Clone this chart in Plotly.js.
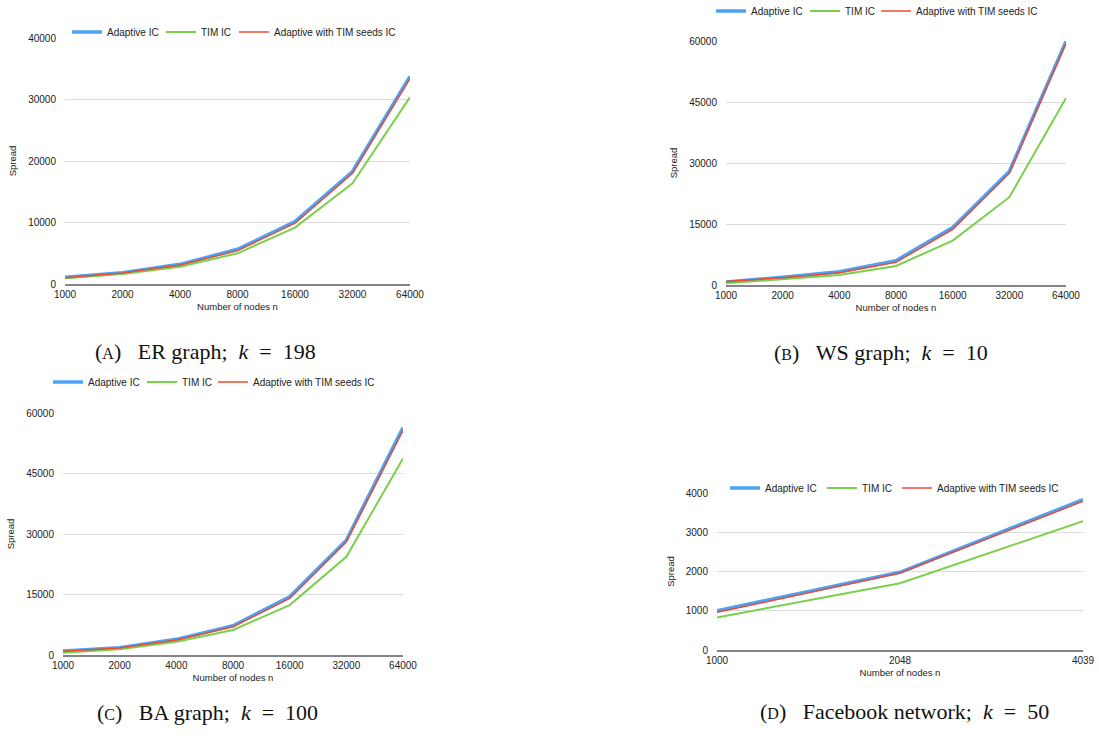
<!DOCTYPE html>
<html>
<head>
<meta charset="utf-8">
<script src="https://cdn.plot.ly/plotly-3.0.1.min.js"></script>
<style>
html,body{margin:0;padding:0;background:#fff;}
#chart{width:1099px;height:736px;}
</style>
</head>
<body>
<div id="chart"></div>
<script>
// ---- data ----
const nodeCats = ['1000','2000','4000','8000','16000','32000','64000'];
const fbCats = ['1000','2048','4039'];

const erAdaptive    = [1090, 1850, 3200, 5640, 10150, 18290, 33760];
const erTim         = [920, 1630, 2820, 4990, 9170, 16390, 30390];
const erAdaptiveTim = [1000, 1780, 3090, 5430, 9880, 18000, 33430];

const wsAdaptive    = [750, 1890, 3280, 5990, 14120, 27900, 59900];
const wsTim         = [410, 1400, 2460, 4680, 10920, 21590, 45970];
const wsAdaptiveTim = [850, 1800, 3040, 5580, 13700, 27500, 59500];

const baAdaptive    = [990, 1820, 3880, 7260, 14440, 28470, 56370];
const baTim         = [580, 1400, 3300, 6190, 12380, 24350, 48700];
const baAdaptiveTim = [950, 1750, 3710, 7010, 14030, 28060, 55710];

const fbAdaptive    = [1000, 1980, 3830];
const fbTim         = [830, 1700, 3280];
const fbAdaptiveTim = [960, 1960, 3790];

const seriesNames = ['Adaptive IC', 'TIM IC', 'Adaptive with TIM seeds IC'];
const xTitle = 'Number of nodes n';
const yTitle = 'Spread';
const SP = '&nbsp;';
function caption(letter, label, k) {
  return '(<span style="font-size:16px">' + letter + '</span>)' + SP.repeat(3) +
         label + SP.repeat(2) + '<i>k</i>' + SP.repeat(2) + '=' + SP.repeat(2) + k;
}
const captions = [
  caption('A', 'ER graph;', '198'),
  caption('B', 'WS graph;', '10'),
  caption('C', 'BA graph;', '100'),
  caption('D', 'Facebook network;', '50')
];

// ---- style ----
const colors = ['#4ba3f4', '#7ccf4c', '#ec4a34'];
const widths = [3.5, 2, 1.5];
const W = 1099, H = 736;
const FONT = 'Liberation Sans, Arial, sans-serif';

const panels = [
  {x: nodeCats, ys: [erAdaptive, erTim, erAdaptiveTim], px:[65,410], py:[38,284], ymax:40000, dtick:10000, legX:[107,201,274], legY:32},
  {x: nodeCats, ys: [wsAdaptive, wsTim, wsAdaptiveTim], px:[726,1066], py:[41,285], ymax:60000, dtick:15000, legX:[751,845,916], legY:11},
  {x: nodeCats, ys: [baAdaptive, baTim, baAdaptiveTim], px:[63,403], py:[413,655], ymax:60000, dtick:15000, legX:[88,182,253], legY:382},
  {x: fbCats,   ys: [fbAdaptive, fbTim, fbAdaptiveTim], px:[717,1083], py:[493,650], ymax:4000, dtick:1000, legX:[765,862,937], legY:488}
];
const capPos = [[205,351],[881,352],[207,712],[904,711]];

const traces = [];
const layout = {
  width: W, height: H, showlegend: true,
  margin: {l:0, r:0, t:0, b:0, autoexpand: false},
  paper_bgcolor: '#fff', plot_bgcolor: '#fff',
  font: {family: FONT, size: 10, color: '#222'},
  annotations: []
};

panels.forEach((p, i) => {
  const n = i + 1;
  const xa = 'x' + (n === 1 ? '' : n), ya = 'y' + (n === 1 ? '' : n);
  p.ys.forEach((y, s) => {
    const li = i * 3 + s + 1;
    const legName = 'legend' + (li === 1 ? '' : li);
    traces.push({
      type: 'scatter', mode: 'lines', x: p.x, y: y, name: seriesNames[s],
      xaxis: xa, yaxis: ya, legend: legName, showlegend: true,
      line: {color: colors[s], width: widths[s]},
      hoverinfo: 'x+y+name'
    });
    layout[legName] = {
      orientation: 'h', x: (p.legX[s] - 40) / W, y: 1 - p.legY / H,
      xanchor: 'left', yanchor: 'middle', bgcolor: 'rgba(0,0,0,0)',
      font: {size: 10, color: '#222'}, itemwidth: 30, visible: true
    };
  });
  layout['xaxis' + (n === 1 ? '' : n)] = {
    domain: [p.px[0]/W, p.px[1]/W], anchor: ya, type: 'category',
    range: [0, p.x.length - 1], showgrid: false, zeroline: false,
    showline: true, linecolor: '#858585', linewidth: 2,
    ticks: '', tickfont: {size: 10, color: '#222'},
    title: {text: xTitle, font: {size: 9.5, color: '#222'}, standoff: 4},
    fixedrange: true
  };
  layout['yaxis' + (n === 1 ? '' : n)] = {
    domain: [1 - p.py[1]/H, 1 - p.py[0]/H], anchor: xa,
    range: [0, p.ymax], dtick: p.dtick, tick0: 0, tickformat: 'd',
    showgrid: true, gridcolor: '#dcdcdc', gridwidth: 1,
    zeroline: false, showline: false, ticks: '',
    ticklabelstandoff: 8,
    tickfont: {size: 10, color: '#222'},
    title: {text: yTitle, font: {size: 9.5, color: '#222'}, standoff: 9},
    fixedrange: true
  };
  layout.annotations.push({
    xref: 'paper', yref: 'paper', x: capPos[i][0]/W, y: 1 - capPos[i][1]/H,
    xanchor: 'center', yanchor: 'middle', showarrow: false,
    text: captions[i],
    font: {family: 'Liberation Serif, Times New Roman, serif', size: 22, color: '#111'}
  });
});

Plotly.newPlot('chart', traces, layout, {displayModeBar: false, staticPlot: true});
</script>
</body>
</html>
